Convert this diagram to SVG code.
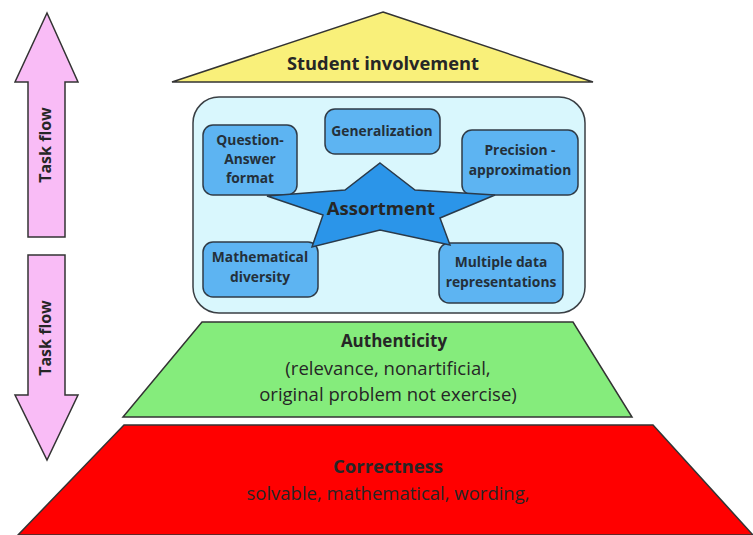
<svg xmlns="http://www.w3.org/2000/svg" width="753" height="535" viewBox="0 0 753 535">
<style>
text{font-family:"Open Sans","Noto Sans","Liberation Sans",sans-serif;fill:#262626;text-anchor:middle}
.b{font-weight:bold}
.arrow{fill:#f9bcf6;stroke:#333;stroke-width:1.5}
.box{fill:#5db4f2;stroke:#2f3b47;stroke-width:1.5}
.bt{font-size:13.8px;font-weight:bold;fill:#24303a}
</style>
<rect width="753" height="535" fill="#ffffff"/>
<g id="arrow-up">
<polygon class="arrow" points="47,13 78,82 65,82 65,237 28,237 28,82 15,82"/>
<text class="b" font-size="16" transform="translate(51,145) rotate(-90)">Task flow</text>
</g>
<g id="arrow-down">
<polygon class="arrow" points="28,255 65,255 65,395 78,395 47,460 15,395 28,395"/>
<text class="b" font-size="16" transform="translate(51,338) rotate(-90)">Task flow</text>
</g>
<g id="student-involvement">
<polygon points="383,12 593,82 172,82" fill="#f9f07a" stroke="#333" stroke-width="1.5"/>
<text class="b" x="383" y="70" font-size="18.3">Student involvement</text>
</g>
<g id="assortment-container">
<rect x="193" y="97" width="392" height="216" rx="26" fill="#d9f7fd" stroke="#3a3f44" stroke-width="1.5"/>
</g>
<g id="question-answer">
<rect class="box" x="203" y="125" width="94" height="70" rx="10"/>
<text class="bt" x="250" y="145">Question-</text>
<text class="bt" x="250" y="164">Answer</text>
<text class="bt" x="250" y="183">format</text>
</g>
<g id="generalization">
<rect class="box" x="325" y="109" width="115" height="45" rx="10"/>
<text class="bt" x="382" y="136">Generalization</text>
</g>
<g id="precision">
<rect class="box" x="462" y="130" width="116" height="65" rx="10"/>
<text class="bt" x="520" y="155">Precision -</text>
<text class="bt" x="520" y="175">approximation</text>
</g>
<g id="mathematical-diversity">
<rect class="box" x="203" y="242" width="115" height="55" rx="10"/>
<text class="bt" x="260" y="262">Mathematical</text>
<text class="bt" x="260" y="282">diversity</text>
</g>
<g id="multiple-data">
<rect class="box" x="439" y="243" width="124" height="60" rx="10"/>
<text class="bt" x="501" y="267">Multiple data</text>
<text class="bt" x="501" y="287">representations</text>
</g>
<g id="assortment">
<polygon points="380,163 415,190 495,195 440,218 450,245 380,230 312,247 323,215 267,196 345,190" fill="#2b95e9" stroke="#2a3a4a" stroke-width="1.5" stroke-linejoin="miter"/>
<text class="b" x="381" y="215" font-size="18.5" fill="#1e2730">Assortment</text>
</g>
<g id="authenticity">
<polygon points="202,322 573,322 632,417 123,417" fill="#85ec7c" stroke="#333" stroke-width="1.5"/>
<text class="b" x="394" y="347" font-size="17">Authenticity</text>
<text x="388" y="375" font-size="18.5" fill="#333">(relevance, nonartificial,</text>
<text x="388" y="401" font-size="18.5" fill="#333">original problem not exercise)</text>
</g>
<g id="correctness">
<polygon points="124,425 653,425 753,535 18,535" fill="#ff0000" stroke="#333" stroke-width="1.5"/>
<text class="b" x="388" y="473" font-size="18.5" fill="#3a0a0a">Correctness</text>
<text x="388" y="500" font-size="18.5" fill="#3a0a0a">solvable, mathematical, wording,</text>
</g>
<g id="connectors"></g>
</svg>
